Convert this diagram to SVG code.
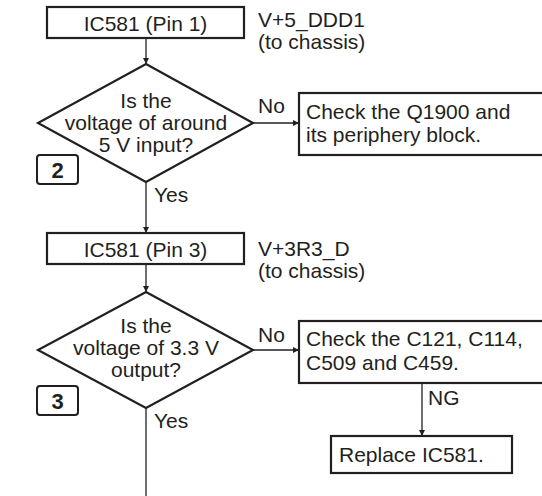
<svg xmlns="http://www.w3.org/2000/svg" width="542" height="496" viewBox="0 0 542 496">
<style>
.box{fill:#fff;stroke:#231f20;stroke-width:2.2}
.dia{fill:#fff;stroke:#231f20;stroke-width:2.2}
.tag{fill:#fff;stroke:#231f20;stroke-width:2}
.ln{fill:none;stroke:#231f20;stroke-width:1.3}
text{font-family:"Liberation Sans",Arial,sans-serif;font-size:21px;fill:#231f20}
.c{text-anchor:middle}
.b{font-weight:bold;font-size:22px}
</style>
<defs>
<marker id="ah" viewBox="0 0 10 10" refX="10" refY="5" markerWidth="8" markerHeight="6" markerUnits="userSpaceOnUse" orient="auto">
<path d="M0,0 L10,5 L0,10 z" fill="#231f20"/>
</marker>
</defs>
<g id="connectors">
<line class="ln" x1="146" y1="39" x2="146" y2="64" marker-end="url(#ah)"/>
<line class="ln" x1="146" y1="182" x2="146" y2="233" marker-end="url(#ah)"/>
<line class="ln" x1="253" y1="123" x2="299" y2="123" marker-end="url(#ah)"/>
<line class="ln" x1="146" y1="265" x2="146" y2="292" marker-end="url(#ah)"/>
<line class="ln" x1="253" y1="350" x2="299" y2="350" marker-end="url(#ah)"/>
<line class="ln" x1="146" y1="408" x2="146" y2="496"/>
<line class="ln" x1="422" y1="383" x2="422" y2="436" marker-end="url(#ah)"/>
<text x="258" y="113">No</text>
<text x="154" y="202">Yes</text>
<text x="258" y="342">No</text>
<text x="154" y="428">Yes</text>
<text x="428" y="405">NG</text>
</g>
<g id="n1">
<rect class="box" x="47" y="7" width="197" height="31"/>
<text class="c" x="145.5" y="31">IC581 (Pin 1)</text>
</g>
<g id="n1note">
<text x="258" y="27">V+5_DDD1</text>
<text x="258" y="49">(to chassis)</text>
</g>
<g id="d1">
<polygon class="dia" points="146,64 253,123 146,182 38,123"/>
<text class="c" x="146" y="108">Is the</text>
<text class="c" x="146" y="130">voltage of around</text>
<text class="c" x="146" y="152">5 V input?</text>
</g>
<g id="tag2">
<rect class="tag" x="37" y="155" width="41" height="29" rx="3"/>
<text class="c b" x="57.5" y="178">2</text>
</g>
<g id="n3">
<rect class="box" x="299" y="93" width="250" height="62"/>
<text x="306" y="119">Check the Q1900 and</text>
<text x="306" y="142">its periphery block.</text>
</g>
<g id="n2">
<rect class="box" x="47" y="233" width="197" height="31"/>
<text class="c" x="145.5" y="257">IC581 (Pin 3)</text>
</g>
<g id="n2note">
<text x="258" y="256">V+3R3_D</text>
<text x="258" y="278">(to chassis)</text>
</g>
<g id="d2">
<polygon class="dia" points="146,292 253,350 146,408 38,350"/>
<text class="c" x="146" y="333">Is the</text>
<text class="c" x="146" y="355">voltage of 3.3 V</text>
<text class="c" x="146" y="377">output?</text>
</g>
<g id="tag3">
<rect class="tag" x="37" y="386" width="41" height="29" rx="3"/>
<text class="c b" x="57.5" y="409">3</text>
</g>
<g id="n4">
<rect class="box" x="299" y="321" width="250" height="62"/>
<text x="306" y="346">Check the C121, C114,</text>
<text x="306" y="370">C509 and C459.</text>
</g>
<g id="n5">
<rect class="box" x="331" y="436" width="181" height="37"/>
<text x="339" y="462">Replace IC581.</text>
</g>
</svg>
